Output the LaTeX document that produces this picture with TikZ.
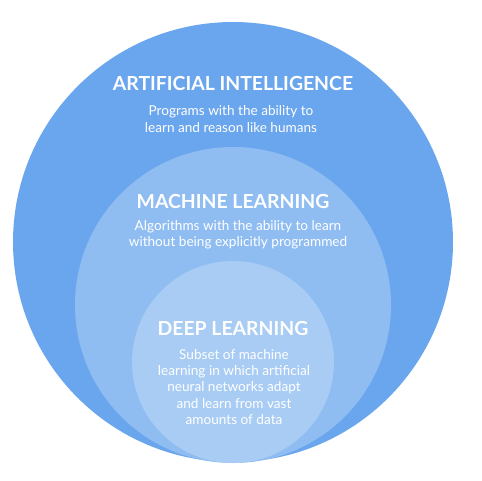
\documentclass[tikz,border=0pt]{standalone}
\usepackage{fontspec}
\setmainfont{Lato}
\definecolor{aiblue}{HTML}{6AA6EE}
\definecolor{mlblue}{HTML}{8FBDF2}
\definecolor{dlblue}{HTML}{A8CCF3}
\tikzset{
  ring/.style={circle, draw=none, inner sep=0pt},
  title/.style={text=white, font=\fontsize{19.4}{22}\selectfont\bfseries, inner sep=0pt},
  desc/.style={text=white, font=\fontsize{13.6}{16.3}\selectfont, align=center, inner sep=0pt},
}
\begin{document}
\begin{tikzpicture}[x=1pt,y=-1pt]
\useasboundingbox (0,0) rectangle (482,480);
\node[ring, fill=aiblue, minimum size=440pt] (ai) at (233,242) {};
\node[ring, fill=mlblue, minimum size=316pt] (ml) at (233,305) {};
\node[ring, fill=dlblue, minimum size=202pt] (dl) at (233,362) {};
\node[title] (aititle) at (233,83) {ARTIFICIAL INTELLIGENCE};
\node[desc] (aidesc) at (231,119) {Programs with the ability to\\learn and reason like humans};
\node[title] (mltitle) at (233,201) {MACHINE LEARNING};
\node[desc] (mldesc) at (238,235) {Algorithms with the ability to learn\\without being explicitly programmed};
\node[title] (dltitle) at (233,328) {DEEP LEARNING};
\node[desc] (dldesc) at (234,387) {Subset of machine\\learning in which artificial\\neural networks adapt\\and learn from vast\\amounts of data};
\end{tikzpicture}
\end{document}
